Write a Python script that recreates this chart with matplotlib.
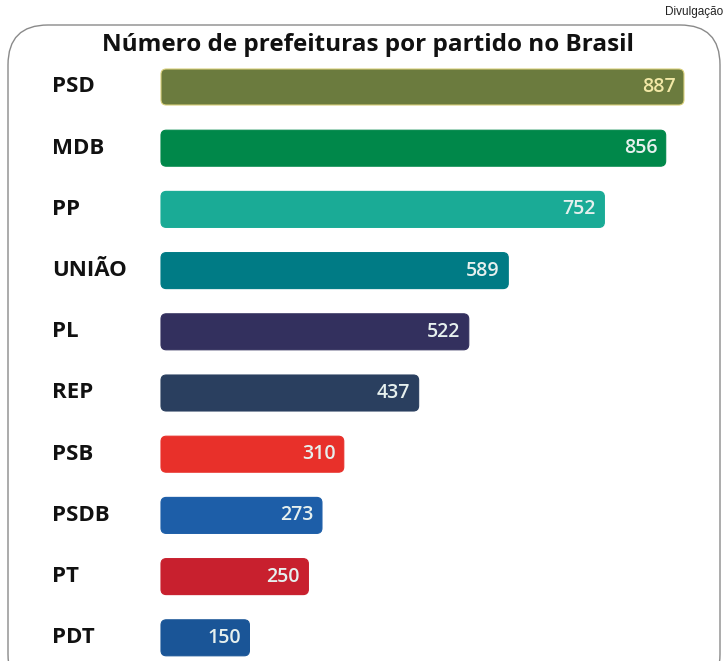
import matplotlib.pyplot as plt
from matplotlib.patches import FancyBboxPatch

partidos = ["PSD", "MDB", "PP", "UNIÃO", "PL", "REP", "PSB", "PSDB", "PT", "PDT"]
prefeituras = [887, 856, 752, 589, 522, 437, 310, 273, 250, 150]
cores = ["#6b7b3e", "#00884a", "#1aab96", "#007b85", "#33305e",
         "#2a3f5f", "#e8302a", "#1d5ea8", "#c8202e", "#1a5597"]
cor_texto = ["#f2e8a6"] + ["#e6f0ee"] * 9

W, H = 725, 661
fig = plt.figure(figsize=(W / 100, H / 100), dpi=100)
ax = fig.add_axes([0, 0, 1, 1])

# pixel mapping: bars start at x=161 px, 0.5896 px per prefeitura, rows 61.2 px apart
x0_px, px_por_un = 161, 0.5896
y0_px, passo = 87, 61.2
ax.set_xlim(-x0_px / px_por_un, (W - x0_px) / px_por_un)
ax.set_ylim((H - y0_px) / passo, -y0_px / passo)
ax.axis("off")

altura = 36 / passo
bars = ax.barh(range(len(partidos)), prefeituras, height=altura, color=cores)
aspecto = px_por_un / passo
for b, c in zip(bars, cores):
    b.set_visible(False)
    caixa = FancyBboxPatch((b.get_x(), b.get_y()), b.get_width(), b.get_height(),
                           boxstyle="round,pad=0,rounding_size=9",
                           mutation_aspect=aspecto, facecolor=c,
                           edgecolor="#d8cf7a" if c == cores[0] else c, lw=0.8)
    ax.add_patch(caixa)

for i, (p, v) in enumerate(zip(partidos, prefeituras)):
    ax.text(52 / W, i, p, transform=ax.get_yaxis_transform(), ha="left",
            va="center", fontsize=16, fontweight="bold", family="Open Sans",
            color="#111111")
    ax.annotate(str(v), (v, i), xytext=(-6, 0), textcoords="offset points",
                ha="right", va="center", fontsize=14, fontweight="semibold",
                family="Open Sans", color=cor_texto[i])

# rounded frame
moldura = FancyBboxPatch((8 / W, -0.05), (720 - 8) / W, (H - 25) / H + 0.05,
                         boxstyle="round,pad=0,rounding_size=0.055",
                         transform=fig.transFigure, facecolor="none",
                         edgecolor="#8a8a8a", lw=1.0, mutation_aspect=W / H)
fig.patches.append(moldura)

fig.text(368 / W, 1 - 45 / H, "Número de prefeituras por partido no Brasil",
         ha="center", va="center", fontsize=17.5, fontweight="bold",
         family="Open Sans", color="#111111")
fig.text(723 / W, 1 - 12 / H, "Divulgação", ha="right", va="center",
         fontsize=8.5, family="Liberation Sans", color="#222222")

fig.savefig("out.png", dpi=100)
